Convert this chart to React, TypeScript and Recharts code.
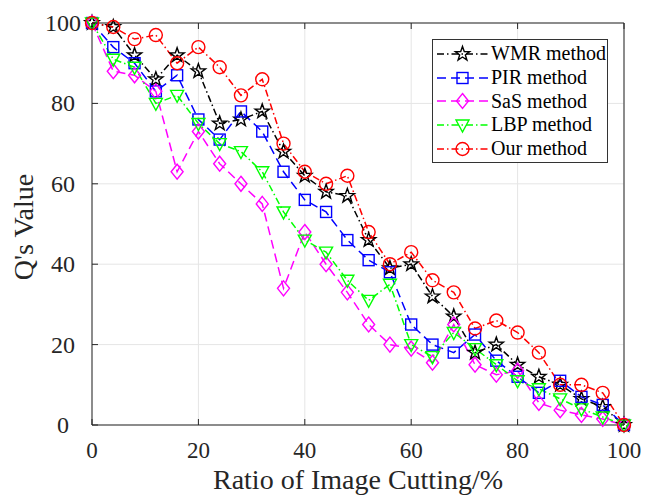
import React from "react";
import { LineChart, Line, XAxis, YAxis, CartesianGrid, Legend } from "recharts";

const ratio = [0, 4, 8, 12, 16, 20, 24, 28, 32, 36, 40, 44, 48, 52, 56, 60, 64, 68, 72, 76, 80, 84, 88, 92, 96, 100];
const wmr = [100, 99, 92, 86, 92, 88, 75, 76, 78, 68, 62, 58, 57, 46, 39, 40, 32, 27, 18, 20, 15, 12, 10, 6.5, 4.5, 0];
const pir = [100, 94, 90, 83, 87, 76, 71, 78, 73, 63, 56, 53, 46, 41, 38, 25, 20, 18, 22.5, 16, 12, 8, 11, 7, 5, 0];
const sas = [100, 88, 87, 83, 63, 73, 65, 60, 55, 34, 48, 40, 33, 25, 20, 19, 15.5, 25, 15, 12.5, 13.5, 5.5, 3.7, 2.5, 1.5, 0];
const lbp = [100, 91, 89, 80, 82, 75, 70, 68, 63, 53, 46, 43, 36, 31, 35, 20, 17, 23, 19, 15, 11, 9, 6.5, 4, 2, 0];
const our = [100, 99, 96, 97, 90, 94, 89, 82, 86, 70, 63, 60, 62, 48, 40, 43, 36, 33, 24, 26, 23, 18, 10, 10, 8, 0];
const xTicks = [0, 20, 40, 60, 80, 100];
const yTicks = [0, 20, 40, 60, 80, 100];

const data = ratio.map((r, i) => ({
  ratio: r,
  wmr: wmr[i],
  pir: pir[i],
  sas: sas[i],
  lbp: lbp[i],
  our: our[i],
}));

type Shape = "star" | "square" | "diamond" | "triangle" | "circle";

const series: { key: string; name: string; color: string; dash: string; shape: Shape }[] = [
  { key: "wmr", name: "WMR method", color: "#000000", dash: "7 3 1.5 3", shape: "star" },
  { key: "pir", name: "PIR method", color: "#0000ff", dash: "9 5", shape: "square" },
  { key: "sas", name: "SaS method", color: "#ff00ff", dash: "9 5", shape: "diamond" },
  { key: "lbp", name: "LBP method", color: "#00ff00", dash: "7 3 1.5 3", shape: "triangle" },
  { key: "our", name: "Our method", color: "#ff0000", dash: "7 3 1.5 3", shape: "circle" },
];

const FONT = '"Liberation Serif", "Times New Roman", serif';
const AXIS = "#262626";

function starPoints(cx: number, cy: number, R: number, r: number) {
  const pts: string[] = [];
  for (let k = 0; k < 10; k++) {
    const a = -Math.PI / 2 + (k * Math.PI) / 5;
    const rad = k % 2 === 0 ? R : r;
    pts.push(`${cx + rad * Math.cos(a)},${cy + rad * Math.sin(a)}`);
  }
  return pts.join(" ");
}

function Marker({ cx, cy, shape, color }: { cx: number; cy: number; shape: Shape; color: string }) {
  const common = { fill: "none", stroke: color, strokeWidth: 1.4 };
  switch (shape) {
    case "circle":
      return <circle cx={cx} cy={cy} r={6.5} {...common} />;
    case "square":
      return <rect x={cx - 5.5} y={cy - 5.5} width={11} height={11} {...common} />;
    case "diamond":
      return <polygon points={`${cx},${cy - 7.5} ${cx + 6},${cy} ${cx},${cy + 7.5} ${cx - 6},${cy}`} {...common} />;
    case "triangle":
      return <polygon points={`${cx - 6.5},${cy - 5} ${cx + 6.5},${cy - 5} ${cx},${cy + 7}`} {...common} />;
    default:
      return <polygon points={starPoints(cx, cy, 7.5, 3)} {...common} />;
  }
}

const makeDot = (shape: Shape, color: string) => (p: any) => {
  if (p.cx == null || p.cy == null) return <g key={p.index} />;
  return (
    <g key={p.index}>
      <Marker cx={p.cx} cy={p.cy} shape={shape} color={color} />
    </g>
  );
};

const BottomTick = ({ x, y, payload }: any) => (
  <g>
    <line x1={x} x2={x} y1={y} y2={y - 6} stroke={AXIS} />
    <text x={x} y={y + 33} textAnchor="middle" fontFamily={FONT} fontSize={23} fill={AXIS}>
      {payload.value}
    </text>
  </g>
);

const TopTick = ({ x, y }: any) => <line x1={x} x2={x} y1={y} y2={y + 6} stroke={AXIS} />;

const LeftTick = ({ x, y, payload }: any) => (
  <g>
    <line x1={x} x2={x + 6} y1={y} y2={y} stroke={AXIS} />
    <text x={x - 29} y={y + 8} textAnchor="middle" fontFamily={FONT} fontSize={24} fill={AXIS}>
      {payload.value}
    </text>
  </g>
);

const RightTick = ({ x, y }: any) => <line x1={x} x2={x - 6} y1={y} y2={y} stroke={AXIS} />;

const renderLegend = () => (
  <div
    style={{
      border: "1px solid #333",
      background: "#fff",
      width: 174,
      padding: "2px 0",
      fontFamily: FONT,
      fontSize: 20,
      color: "#000",
      boxSizing: "content-box",
    }}
  >
    {series.map((s) => (
      <div key={s.key} style={{ display: "flex", alignItems: "center", height: 23.7 }}>
        <svg width={58} height={24} style={{ flex: "none" }}>
          <line x1={4} x2={55} y1={12} y2={12} stroke={s.color} strokeWidth={1.5} strokeDasharray={s.dash} />
          <Marker cx={29.5} cy={12} shape={s.shape} color={s.color} />
        </svg>
        <span style={{ whiteSpace: "nowrap" }}>{s.name}</span>
      </div>
    ))}
  </div>
);

export default function App() {
  return (
    <div style={{ position: "absolute", left: 0, top: 0, width: 646, height: 496, background: "#fff" }}>
      <LineChart width={646} height={496} data={data} margin={{ top: 0, right: 0, left: 0, bottom: 0 }}>
        <CartesianGrid stroke="#e5e5e5" strokeWidth={1} />
        <XAxis
          dataKey="ratio"
          type="number"
          domain={[0, 100]}
          ticks={xTicks}
          height={71}
          tickSize={0}
          tickMargin={0}
          tickLine={false}
          axisLine={{ stroke: AXIS }}
          tick={<BottomTick />}
          interval={0}
        />
        <XAxis
          xAxisId="top"
          orientation="top"
          dataKey="ratio"
          type="number"
          domain={[0, 100]}
          ticks={xTicks}
          height={23}
          tickSize={0}
          tickMargin={0}
          tickLine={false}
          axisLine={{ stroke: AXIS }}
          tick={<TopTick />}
          interval={0}
        />
        <YAxis
          type="number"
          domain={[0, 100]}
          ticks={yTicks}
          width={92}
          tickSize={0}
          tickMargin={0}
          tickLine={false}
          axisLine={{ stroke: AXIS }}
          tick={<LeftTick />}
          interval={0}
        />
        <YAxis
          yAxisId="right"
          orientation="right"
          type="number"
          domain={[0, 100]}
          ticks={yTicks}
          width={22}
          tickSize={0}
          tickMargin={0}
          tickLine={false}
          axisLine={{ stroke: AXIS }}
          tick={<RightTick />}
          interval={0}
        />
        {series.map((s) => (
          <Line
            key={s.key}
            type="linear"
            dataKey={s.key}
            name={s.name}
            stroke={s.color}
            strokeWidth={1.5}
            strokeDasharray={s.dash}
            dot={makeDot(s.shape, s.color)}
            activeDot={false}
            isAnimationActive={false}
          />
        ))}
        <Legend
          layout="horizontal"
          verticalAlign="middle"
          align="center"
          content={renderLegend}
          wrapperStyle={{ position: "absolute", left: 432, top: 39, width: 176 }}
        />
        <text x={358} y={489} textAnchor="middle" fontFamily={FONT} fontSize={28} fill={AXIS}>
          Ratio of Image Cutting/%
        </text>
        <text
          x={33}
          y={227}
          textAnchor="middle"
          transform="rotate(-90, 33, 227)"
          fontFamily={FONT}
          fontSize={28}
          fill={AXIS}
        >
          Q's Value
        </text>
      </LineChart>
    </div>
  );
}
